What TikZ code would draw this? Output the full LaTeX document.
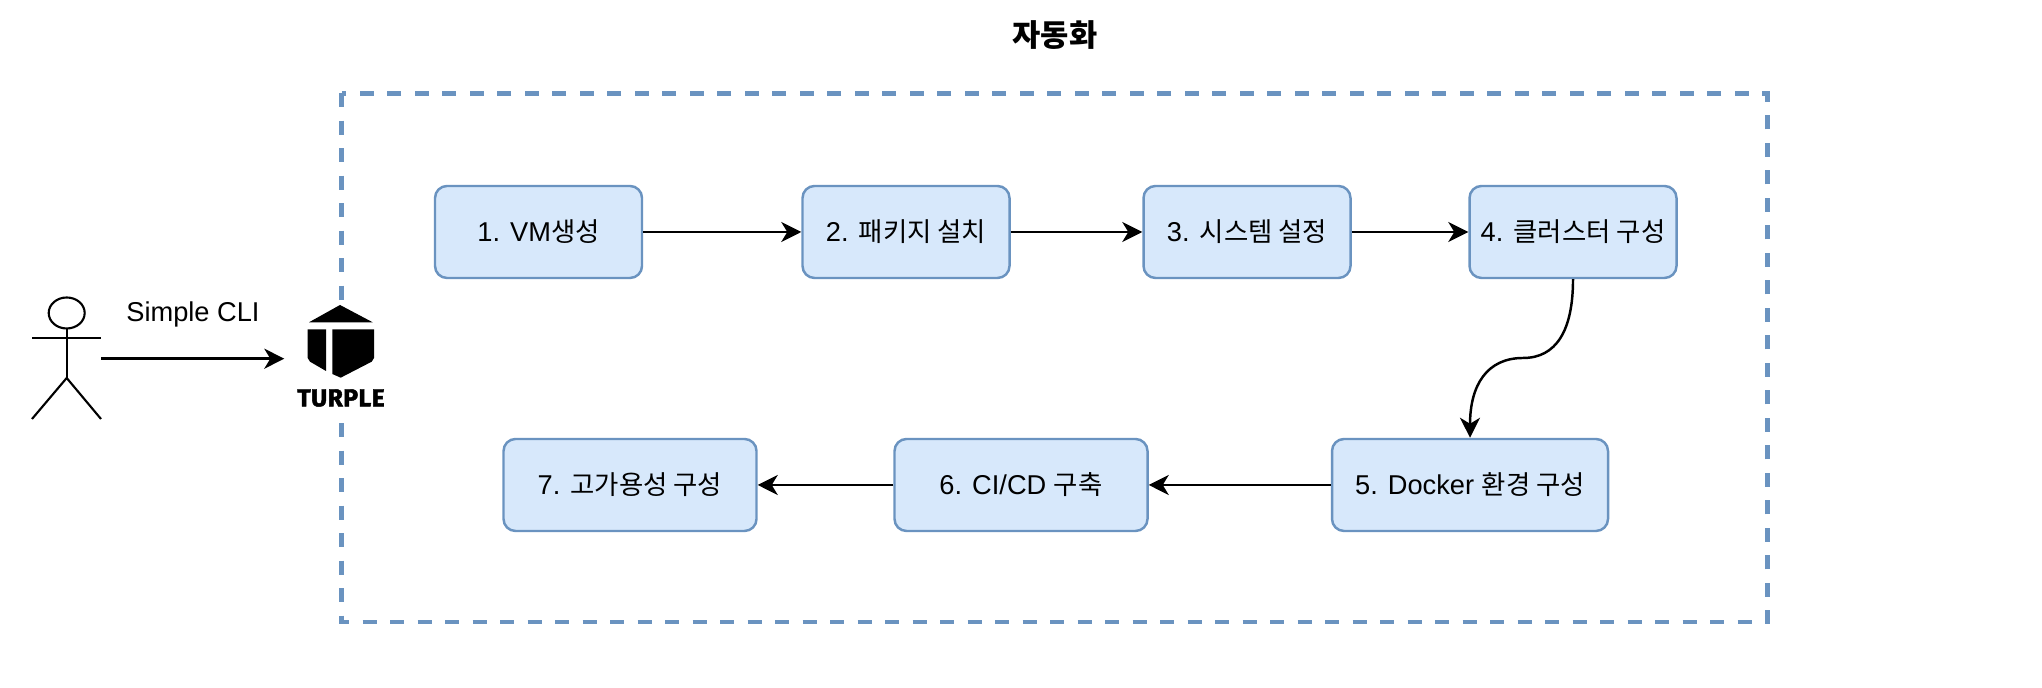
\documentclass[tikz,border=0pt]{standalone}
\usepackage{fontspec}
\usetikzlibrary{arrows.meta}
\setmainfont{Liberation Sans}
\newfontfamily\cjk[Scale=0.97]{Noto Sans CJK KR}
\newfontfamily\logofont[FakeBold=2,LetterSpace=2]{Fira Sans}
\definecolor{boxfill}{HTML}{D7E8FB}
\definecolor{boxline}{HTML}{6A93C0}
\tikzset{
    box/.style={draw=boxline, fill=boxfill, line width=0.7pt, rounded corners=0.12cm,
        minimum height=0.92cm, inner sep=0pt, font=\fontsize{7.75}{9}\selectfont},
    link/.style={line width=0.7pt, -{Stealth[length=0.2cm,width=0.2cm,inset=0.06cm]}},
    stick/.style={line width=0.6pt}
}

\begin{document}
\begin{tikzpicture}
    \useasboundingbox (0,0) rectangle (20.42,6.88);

    % Draw the dashed frame
    \draw[boxline, line width=1.4pt, dash pattern=on 0.14cm off 0.135cm] (3.415,5.948) rectangle (17.675,0.66);

    % Title
    \node[font=\fontsize{9}{11}\selectfont\bfseries\cjk] (T) at (10.55,6.53) {자동화};

    % Steps
    \node[box, minimum width=2.07cm] (A) at (5.385,4.56) {1. VM{\cjk 생성}};
    \node[box, minimum width=2.07cm] (B) at (9.06,4.56) {2. {\cjk 패키지 설치}};
    \node[box, minimum width=2.07cm] (C) at (12.47,4.56) {3. {\cjk 시스템 설정}};
    \node[box, minimum width=2.07cm] (D) at (15.73,4.56) {4. {\cjk 클러스터 구성}};
    \node[box, minimum width=2.76cm] (E) at (14.70,2.03) {5. Docker {\cjk 환경 구성}};
    \node[box, minimum width=2.53cm] (F) at (10.21,2.03) {6. CI/CD {\cjk 구축}};
    \node[box, minimum width=2.53cm] (G) at (6.30,2.03) {7. {\cjk 고가용성 구성}};

    % Draw edges connecting the steps
    \coordinate (M) at (15.23,3.30);
    \draw[link] (A) -- (B);
    \draw[link] (B) -- (C);
    \draw[link] (C) -- (D);
    \draw[link] (D.south) .. controls (15.73,3.57) and (15.56,3.30) .. (M)
        .. controls (14.87,3.30) and (14.70,3.03) .. (E.north);
    \draw[link] (E) -- (F);
    \draw[link] (F) -- (G);

    % Person
    \coordinate (H) at (0.667,3.75);
    \coordinate (W) at (1.01,3.293);
    \draw[stick] (H) ellipse (0.18cm and 0.155cm);
    \draw[stick] (0.667,3.595) -- (0.667,3.10);
    \draw[stick] (0.32,3.50) -- (1.01,3.50);
    \draw[stick] (0.32,2.69) -- (0.667,3.10) -- (1.01,2.69);

    % Logo on white, it hides the frame
    \node[fill=white, minimum width=1.14cm, minimum height=1.13cm, inner sep=0pt] (L) at (3.42,3.293) {};
    \fill (3.09,3.657) -- (3.40,3.83) -- (3.727,3.657) -- cycle;
    \fill (3.077,3.587) -- (3.26,3.587) -- (3.26,3.17) -- (3.10,3.263) -- (3.077,3.30) -- cycle;
    \fill (3.323,3.587) -- (3.74,3.587) -- (3.74,3.30) -- (3.717,3.263) -- (3.407,3.103) -- (3.323,3.14) -- cycle;
    \node[font=\fontsize{7}{8}\selectfont\bfseries\logofont, inner sep=0pt] (N) at (3.41,2.90) {TURPLE};

    % Actor to logo
    \node[font=\fontsize{7.75}{9}\selectfont] (S) at (1.93,3.735) {Simple CLI};
    \draw[link] (W) -- (L);
\end{tikzpicture}
\end{document}
